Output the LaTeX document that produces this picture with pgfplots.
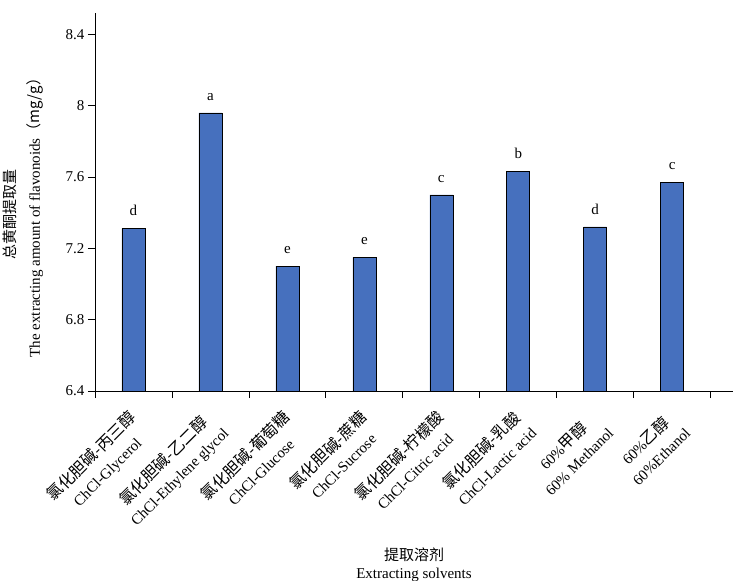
\documentclass[border=0pt]{standalone}
\usepackage{pgfplots}
\pgfplotsset{compat=1.18}
\usepackage{fontspec}
\setmainfont{Liberation Serif}
\newfontfamily\cjk{Noto Sans CJK SC}
\newcommand\ck[1]{{\fontsize{16}{18}\selectfont\cjk #1}}
\definecolor{barblue}{RGB}{70,112,190}
\begin{document}
\begin{tikzpicture}
\begin{axis}[
  scale only axis, width=638pt, height=378pt,
  xmin=-0.5, xmax=7.79, ymin=6.4, ymax=8.52,
  axis x line=bottom, axis y line=left,
  axis line style={-, black, line width=0.8pt},
  xtick={-0.5,0.5,...,7.5},
  x tick label as interval,
  xticklabels={
    {\ck{氯化胆碱-丙三醇}\\ChCl-Glycerol},
    {\ck{氯化胆碱-乙二醇}\\ChCl-Ethylene glycol},
    {\ck{氯化胆碱-葡萄糖}\\ChCl-Glucose},
    {\ck{氯化胆碱-蔗糖}\\ChCl-Sucrose},
    {\ck{氯化胆碱-柠檬酸}\\ChCl-Citric acid},
    {\ck{氯化胆碱-乳酸}\\ChCl-Lactic acid},
    {60\%\ck{甲醇}\\60\% Methanol},
    {60\%\ck{乙醇}\\60\%Ethanol}},
  ytick={6.4,6.8,7.2,7.6,8,8.4},
  yticklabels={6.4,6.8,7.2,7.6,8,8.4},
  tick align=outside,
  major tick length=7pt,
  tick style={black, line width=0.8pt},
  tick label style={font=\fontsize{15}{18}\selectfont},
  x tick label style={xshift=-6pt, yshift=-6pt, rotate=45, anchor=north east, align=center, font=\fontsize{15}{22}\selectfont},
  ylabel={{\cjk 总黄酮提取量}\\The extracting amount of flavonoids{\cjk （mg/g）}},
  ylabel style={at={(axis description cs:-0.075,0.468)}, anchor=south, align=center, font=\fontsize{15}{24}\selectfont},
  xlabel={{\cjk 提取溶剂}\\Extracting solvents},
  xlabel style={at={(rel axis cs:0.5,0)}, anchor=north, yshift=-153pt, align=center, font=\fontsize{15}{18}\selectfont},
]
\addplot[ybar, bar width=23pt, fill=barblue, draw=black, line width=0.6pt,
  nodes near coords, point meta=explicit symbolic,
  nodes near coords style={font=\fontsize{15}{17}\selectfont, anchor=south, yshift=9pt}]
  coordinates {(0,7.31)[d] (1,7.96)[a] (2,7.10)[e] (3,7.15)[e] (4,7.50)[c] (5,7.63)[b] (6,7.32)[d] (7,7.57)[c]};
\coordinate (bl) at (rel axis cs:0,0);
\coordinate (tr) at (rel axis cs:1,1);
\end{axis}
\pgfresetboundingbox
\path[use as bounding box] ([xshift=-95pt,yshift=-190pt]bl) rectangle ([xshift=4pt,yshift=13pt]tr);
\end{tikzpicture}
\end{document}
